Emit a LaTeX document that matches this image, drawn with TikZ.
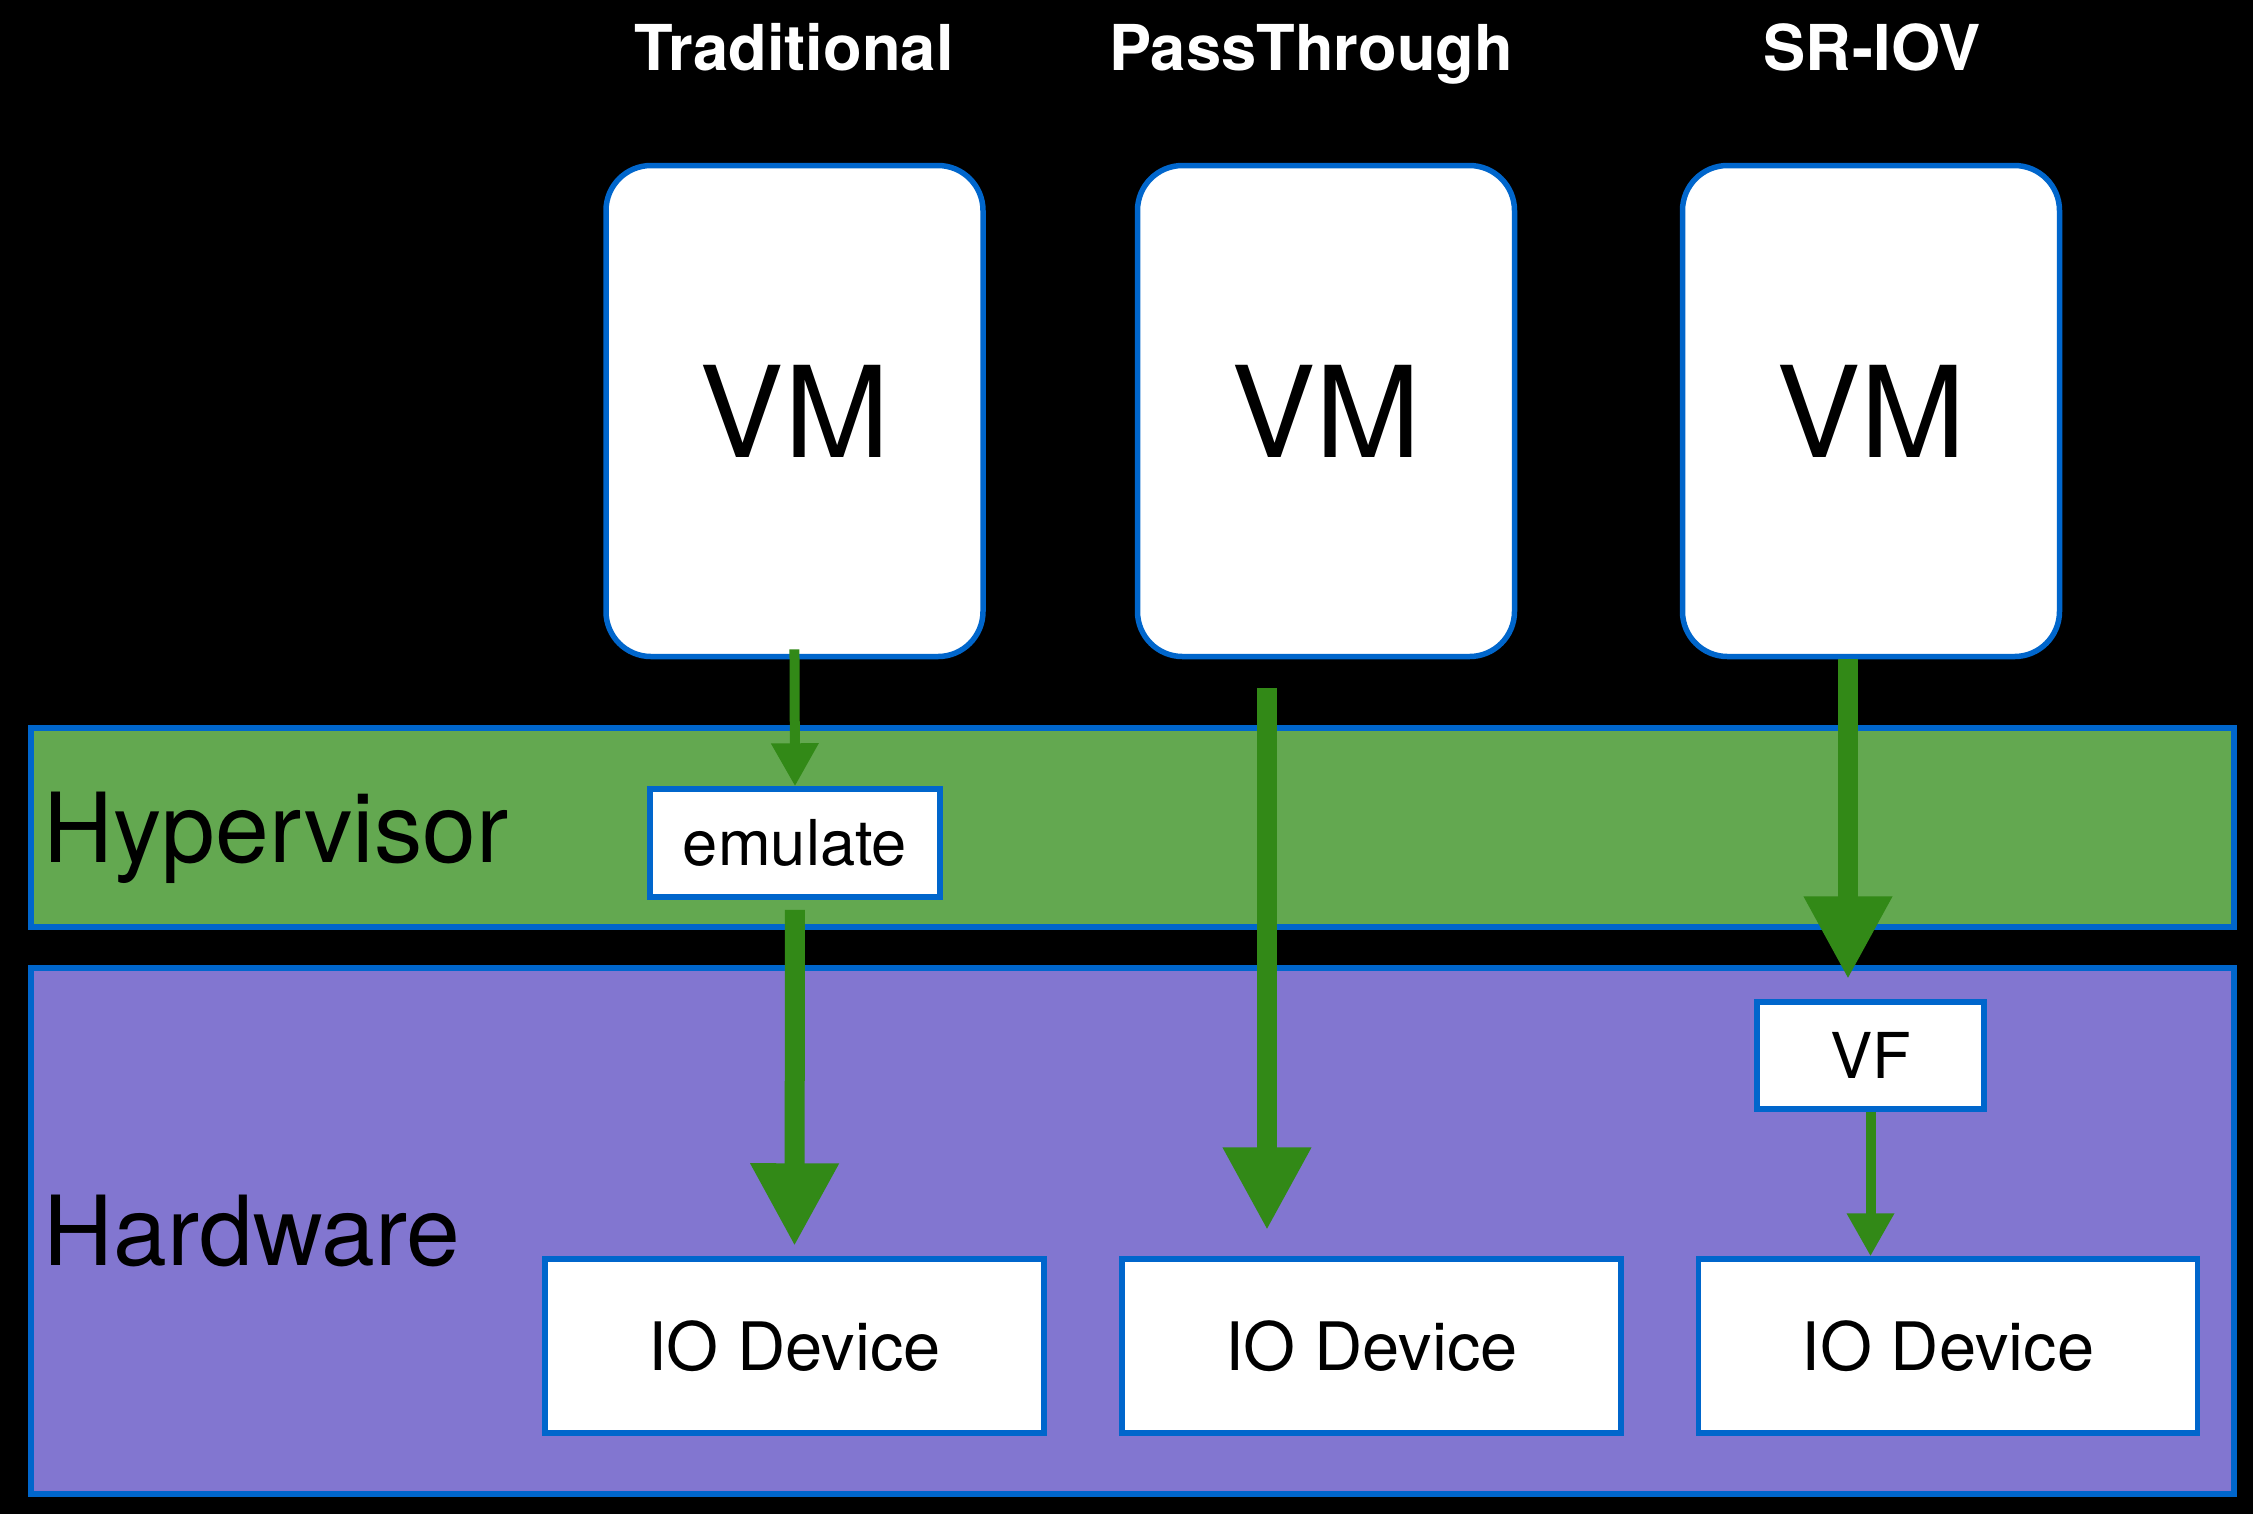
\documentclass[tikz,border=0pt]{standalone}
\usepackage{fontspec}
\setmainfont{TeX Gyre Heros}
\usetikzlibrary{arrows.meta}

\definecolor{edgeblue}{HTML}{0066CC}
\definecolor{hypgreen}{HTML}{63A850}
\definecolor{hwpurple}{HTML}{8276D0}
\definecolor{flowgreen}{HTML}{328917}

\begin{document}
\begin{tikzpicture}[
		box/.style={draw=edgeblue, line width=0.055cm, fill=white, inner sep=0pt},
		vmbox/.style={box, rounded corners=0.45cm, minimum width=3.77cm, minimum height=4.91cm, font=\fontsize{36}{40}\selectfont},
		iobox/.style={box, minimum width=4.99cm, minimum height=1.74cm, font=\fontsize{19}{22}\selectfont},
		title/.style={text=white, anchor=base, inner sep=0pt, font=\fontsize{18}{22}\selectfont\bfseries},
		layer/.style={anchor=base west, inner sep=0pt, font=\fontsize{27.5}{32}\selectfont},
		bigflow/.style={draw=flowgreen, line width=0.2cm, -{Triangle[width=0.83cm, length=0.83cm]}},
		smallflow/.style={draw=flowgreen, line width=0.1cm, -{Triangle[width=0.45cm, length=0.43cm]}}
	]
		% background
		\fill[black] (0,0) rectangle (22.53,-15.14);
		
		% layers
		\draw[edgeblue, line width=0.055cm, fill=hypgreen] (0.31,-7.28) rectangle (22.34,-9.27);
		\draw[edgeblue, line width=0.055cm, fill=hwpurple] (0.31,-9.68) rectangle (22.34,-14.94);
		\node[layer] (hyp) at (0.43,-8.62) {Hypervisor};
		\node[layer] (hw) at (0.43,-12.65) {Hardware};
		
		% titles
		\node[title] (tradT) at (7.94,-0.70) {Traditional};
		\node[title] (passT) at (13.11,-0.70) {PassThrough};
		\node[title] (sriovT) at (18.72,-0.70) {SR-IOV};
		
		% virtual machines
		\node[vmbox] (vmA) at (7.945,-4.11) {VM};
		\node[vmbox] (vmB) at (13.26,-4.11) {VM};
		\node[vmbox] (vmC) at (18.71,-4.11) {VM};
		
		\node[box, minimum width=2.90cm, minimum height=1.08cm, font=\fontsize{18}{22}\selectfont] (emu) at (7.95,-8.43) {emulate};
		\node[box, minimum width=2.27cm, minimum height=1.07cm, font=\fontsize{18}{22}\selectfont] (vf) at (18.705,-10.555) {VF};
		
		% devices
		\node[iobox] (ioA) at (7.945,-13.46) {IO Device};
		\node[iobox] (ioB) at (13.715,-13.46) {IO Device};
		\node[iobox] (ioC) at (19.48,-13.46) {IO Device};
		
		\coordinate (passX) at (12.67,0);
		\coordinate (sriovX) at (18.48,0);
		
		% flows
		\draw[smallflow, shorten <=-0.1cm] (vmA.south) -- (emu.north);
		\draw[bigflow, shorten <=0.1cm, shorten >=0.1cm] (emu.south) -- (ioA.north);
		\draw[bigflow, shorten <=0.29cm, shorten >=0.26cm] (vmB.south -| passX) -- (ioB.north -| passX);
		\draw[bigflow, shorten >=0.2cm] (vmC.south -| sriovX) -- (vf.north -| sriovX);
		\draw[smallflow] (vf.south) -- (vf.south |- ioC.north);
	\end{tikzpicture}
\end{document}
